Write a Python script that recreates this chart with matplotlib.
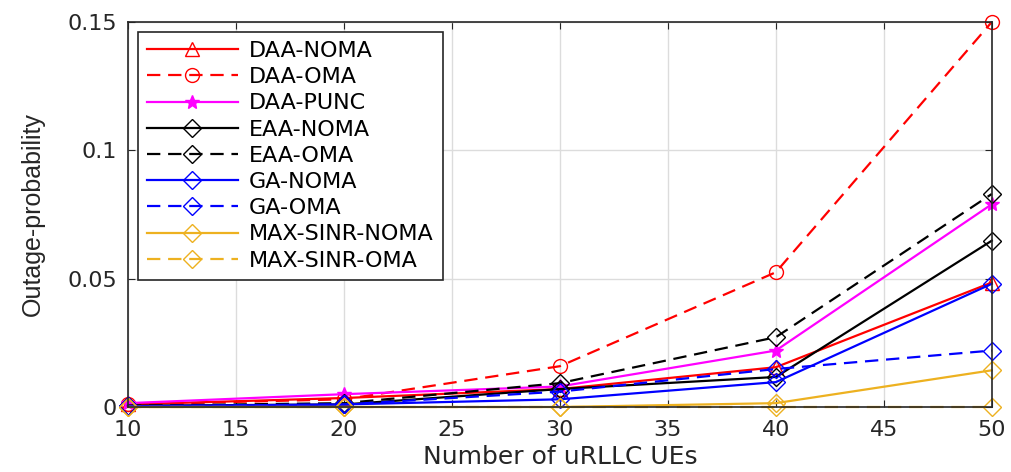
import matplotlib.pyplot as plt

plt.rcParams['font.family'] = ['DejaVu Sans']

# number of uRLLC UEs
ues = [10, 20, 30, 40, 50]

# outage probability per scheme
daa_noma = [0.001, 0.0035, 0.007, 0.0155, 0.0485]
daa_oma = [0.001, 0.003, 0.0159, 0.0525, 0.15]
daa_punc = [0.0015, 0.005, 0.008, 0.022, 0.079]
eaa_noma = [0.0005, 0.001, 0.007, 0.0117, 0.0648]
eaa_oma = [0.0005, 0.0015, 0.0093, 0.0272, 0.083]
ga_noma = [0.0003, 0.001, 0.003, 0.0097, 0.048]
ga_oma = [0.0003, 0.001, 0.006, 0.0148, 0.022]
max_noma = [0.0, 0.0, 0.0, 0.0015, 0.0143]
max_oma = [0.0, 0.0, 0.0, 0.0, 0.0]

orange = '#EDB120'
txt = '#262626'

fig = plt.figure(figsize=(10.11, 4.72), dpi=100)
ax = fig.add_axes([0.1266, 0.1377, 0.8544, 0.8157])

ms = 10
lw = 1.6
dash = (6, 3.5)
common = dict(lw=lw, clip_on=False)
ax.plot(ues, daa_noma, color='red', ls='-', marker='^', ms=ms, mfc='none', label='DAA-NOMA', **common)
ax.plot(ues, daa_oma, color='red', ls='--', dashes=dash, marker='o', ms=ms, mfc='none', label='DAA-OMA', **common)
ax.plot(ues, daa_punc, color='magenta', ls='-', marker='*', ms=ms, label='DAA-PUNC', **common)
ax.plot(ues, eaa_noma, color='black', ls='-', marker='D', ms=ms - 1, mfc='none', label='EAA-NOMA', **common)
ax.plot(ues, eaa_oma, color='black', ls='--', dashes=dash, marker='D', ms=ms - 1, mfc='none', label='EAA-OMA', **common)
ax.plot(ues, ga_noma, color='blue', ls='-', marker='D', ms=ms - 1, mfc='none', label='GA-NOMA', **common)
ax.plot(ues, ga_oma, color='blue', ls='--', dashes=dash, marker='D', ms=ms - 1, mfc='none', label='GA-OMA', **common)
ax.plot(ues, max_noma, color=orange, ls='-', marker='D', ms=ms - 1, mfc='none', label='MAX-SINR-NOMA', **common)
ax.plot(ues, max_oma, color=orange, ls='--', dashes=dash, marker='D', ms=ms - 1, mfc='none', label='MAX-SINR-OMA', **common)

ax.set_xlim(10, 50)
ax.set_ylim(0, 0.15)
ax.set_xticks([10, 15, 20, 25, 30, 35, 40, 45, 50])
ax.set_yticks([0, 0.05, 0.1, 0.15])
ax.set_yticklabels(['0', '0.05', '0.1', '0.15'])
ax.tick_params(direction='in', labelsize=16, colors=txt, length=5, top=True, right=True)
ax.tick_params(axis='x', pad=9)
ax.tick_params(axis='y', pad=8)
ax.grid(True, color='#dcdcdc', lw=1)
for s in ax.spines.values():
    s.set_color(txt)
    s.set_linewidth(1.2)

ax.set_xlabel('Number of uRLLC UEs', fontsize=18, color=txt, labelpad=4)
ax.set_ylabel('Outage-probability', fontsize=18, color=txt, labelpad=16,
              family=['Liberation Sans Narrow', 'Liberation Sans', 'DejaVu Sans'])

leg = ax.legend(loc='upper left', fontsize=16, handlelength=4.1, handletextpad=0.5,
                borderaxespad=0.45, labelspacing=0.28, fancybox=False,
                edgecolor=txt, framealpha=1, borderpad=0.4)
leg.get_frame().set_linewidth(1.2)

fig.savefig('out.png', dpi=100)
